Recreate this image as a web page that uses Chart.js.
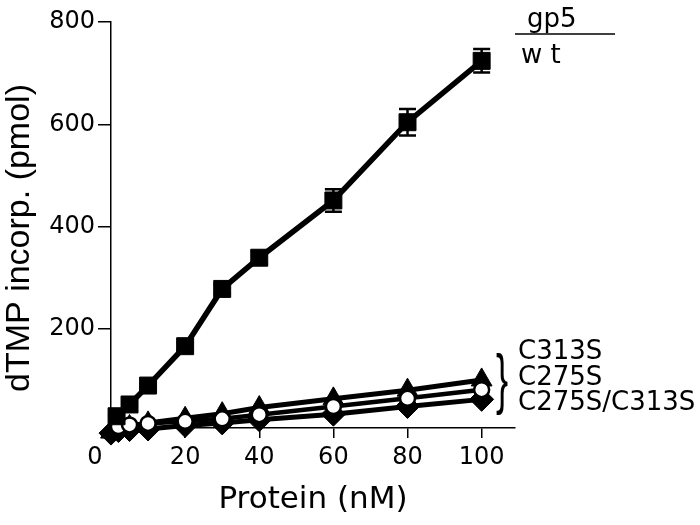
<!DOCTYPE html>
<html>
<head>
<meta charset="utf-8">
<script src="https://cdn.jsdelivr.net/npm/chart.js@4.4.0/dist/chart.umd.min.js"></script>
<style>
  html, body { margin: 0; padding: 0; background: #fff; }
  #wrap { width: 700px; height: 525px; }
</style>
</head>
<body>
<div id="wrap"><canvas id="myChart" width="700" height="525"></canvas></div>
<script>
// protein (nM)
const doseWt = [1.5, 5, 10, 20, 30, 40, 60, 80, 100];
const doseMut = [0, 2, 5, 10, 20, 30, 40, 60, 80, 100];
const doseC275S = [2, 5, 10, 20, 30, 40, 60, 80, 100];

// dTMP incorp. (pmol)
const wt = [29, 52, 89, 166, 278, 339, 451, 604, 724];
const wtErr = [3, 4, 5, 7, 9, 12, 22, 26, 23];
const c313s = [-2, 4, 9, 16, 25, 34, 46, 63, 80, 100];
const c275s = [9, 12, 15, 19, 24, 32, 48, 64, 81];
const c275sC313s = [-4, 1, 3, 4, 11, 16, 22, 33, 48, 62];

const xTicks = [0, 20, 40, 60, 80, 100];
const yTicks = [200, 400, 600, 800];
const mutantLabels = ['C313S', 'C275S', 'C275S/C313S'];

const toXY = (xs, ys) => xs.map((x, i) => ({x: x, y: ys[i]}));

// error bars, y title and the text on the right side
const extras = {
  id: 'extras',
  afterDatasetsDraw(chart) {
    const ctx = chart.ctx;
    const xs = chart.scales.x, ys = chart.scales.y;
    ctx.save();
    ctx.strokeStyle = '#000';
    ctx.lineWidth = 2.5;
    doseWt.forEach((d, i) => {
      const px = xs.getPixelForValue(d);
      const top = ys.getPixelForValue(wt[i] + wtErr[i]);
      const bot = ys.getPixelForValue(wt[i] - wtErr[i]);
      ctx.beginPath();
      ctx.moveTo(px, top); ctx.lineTo(px, bot);
      ctx.moveTo(px - 8.5, top); ctx.lineTo(px + 8.5, top);
      ctx.moveTo(px - 8.5, bot); ctx.lineTo(px + 8.5, bot);
      ctx.stroke();
    });
    ctx.restore();
  },
  afterDraw(chart) {
    const ctx = chart.ctx;
    ctx.save();
    ctx.fillStyle = '#000';
    ctx.strokeStyle = '#000';

    // y axis title
    ctx.save();
    ctx.translate(20, 238);
    ctx.rotate(-Math.PI / 2);
    ctx.font = '34px "Liberation Sans"';
    ctx.textAlign = 'center';
    ctx.textBaseline = 'middle';
    ctx.fillText('dTMP incorp. (pmol)', 0, 0);
    ctx.restore();

    ctx.textAlign = 'left';
    ctx.textBaseline = 'alphabetic';
    ctx.font = '26px "DejaVu Sans"';
    ctx.fillText('gp5', 527, 27);
    ctx.lineWidth = 1.5;
    ctx.beginPath();
    ctx.moveTo(515, 34); ctx.lineTo(615, 34);
    ctx.stroke();
    ctx.fillText('w t', 521, 63);

    ctx.font = '26px "DejaVu Sans"';
    const base = [359, 384.5, 410];
    mutantLabels.forEach((t, i) => ctx.fillText(t, 518, base[i]));

    // brace
    ctx.save();
    ctx.translate(502, 383);
    ctx.scale(0.55, 1);
    ctx.font = '66px "Liberation Sans"';
    ctx.textAlign = 'center';
    ctx.textBaseline = 'middle';
    ctx.fillText('}', 0, 0);
    ctx.restore();

    // zero label of the x axis sits left of the origin
    ctx.font = '24px "DejaVu Sans"';
    ctx.textAlign = 'center';
    ctx.textBaseline = 'middle';
    ctx.fillText('0', 95, 458);
    ctx.restore();
  }
};

new Chart(document.getElementById('myChart'), {
  type: 'scatter',
  data: {
    datasets: [{
      label: 'wt',
      data: toXY(doseWt, wt),
      showLine: true,
      borderColor: '#000',
      borderWidth: 5.5,
      pointStyle: 'rect',
      pointRadius: 12,
      pointBackgroundColor: '#000',
      pointBorderColor: '#000',
      pointBorderWidth: 1,
      clip: false
    }, {
      label: 'C275S',
      data: toXY(doseC275S, c275s),
      showLine: true,
      borderColor: '#000',
      borderWidth: 4.5,
      pointStyle: 'circle',
      pointRadius: 7.5,
      pointBackgroundColor: '#fff',
      pointBorderColor: '#000',
      pointBorderWidth: 2.5,
      clip: false
    }, {
      label: 'C313S',
      data: toXY(doseMut, c313s),
      showLine: true,
      borderColor: '#000',
      borderWidth: 5,
      pointStyle: 'triangle',
      pointRadius: 12,
      pointBackgroundColor: '#000',
      pointBorderColor: '#000',
      pointBorderWidth: 1,
      clip: false
    }, {
      label: 'C275S/C313S',
      data: toXY(doseMut, c275sC313s),
      showLine: true,
      borderColor: '#000',
      borderWidth: 5,
      pointStyle: 'rectRot',
      pointRadius: 12,
      pointBackgroundColor: '#000',
      pointBorderColor: '#000',
      pointBorderWidth: 1,
      clip: false
    }]
  },
  options: {
    responsive: false,
    animation: false,
    layout: { padding: { top: 22, right: 185, left: 0, bottom: 0 } },
    plugins: {
      legend: { display: false },
      tooltip: { enabled: false }
    },
    scales: {
      x: {
        type: 'linear',
        min: 0,
        max: 109,
        afterBuildTicks: s => { s.ticks = xTicks.map(v => ({value: v})); },
        afterFit: s => { s.height = 97; },
        border: { color: '#000', width: 1.5 },
        grid: { drawOnChartArea: false, color: '#000', lineWidth: 1.5, tickLength: 10 },
        ticks: {
          autoSkip: false,
          maxRotation: 0,
          color: '#000',
          padding: 5,
          font: { family: 'DejaVu Sans', size: 24 },
          callback: v => (v === 0 ? '' : v)
        },
        title: {
          display: true,
          text: 'Protein (nM)',
          color: '#000',
          font: { family: 'DejaVu Sans', size: 31 },
          padding: { top: 0, bottom: 6 }
        }
      },
      y: {
        type: 'linear',
        min: 6,
        max: 800,
        afterBuildTicks: s => { s.ticks = yTicks.map(v => ({value: v})); },
        afterFit: s => { s.width = 111; },
        border: { color: '#000', width: 1.5 },
        grid: { drawOnChartArea: false, color: '#000', lineWidth: 1.5, tickLength: 13 },
        ticks: {
          autoSkip: false,
          color: '#000',
          padding: 3,
          font: { family: 'DejaVu Sans', size: 24 }
        },
        title: { display: false }
      }
    }
  },
  plugins: [extras]
});
</script>
</body>
</html>
